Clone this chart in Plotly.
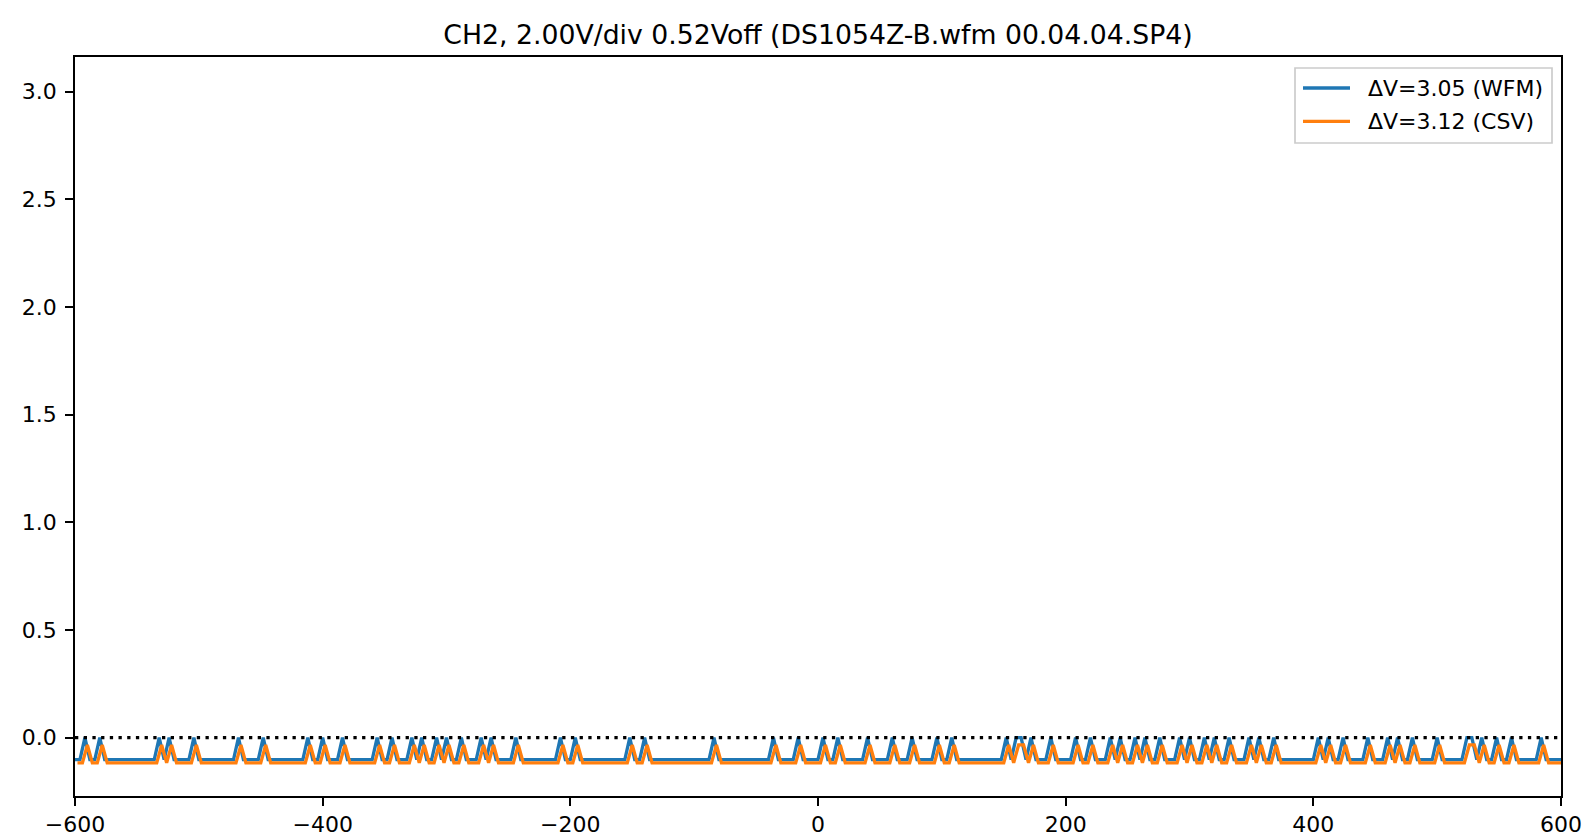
import plotly.graph_objects as go

# ---------------- data ----------------
sample_step = 4.0            # time between samples
wfm_start, wfm_stop = -600.0, 600.0
csv_start, csv_stop = -598.0, 602.0

# sample times where the WFM trace shows a one-sample spike
wfm_peak_times = [-592, -580, -532, -524, -504, -468, -448, -412, -400, -384,
                  -356, -344, -328, -320, -308, -300, -288, -272, -264, -244,
                  -208, -196, -152, -140, -84, -36, -16, 4, 16, 40, 60, 76,
                  96, 108, 152, 160, 164, 172, 188, 208, 220, 236, 244, 256,
                  264, 276, 292, 300, 312, 320, 332, 348, 356, 368, 404, 412,
                  424, 444, 460, 468, 480, 500, 524, 528, 536, 548, 560, 584]
# sample times where the CSV trace shows a spike
csv_peak_times = [-590, -578, -530, -522, -502, -466, -446, -410, -398, -382,
                  -354, -342, -326, -318, -306, -298, -286, -270, -262, -242,
                  -206, -194, -150, -138, -82, -34, -14, 6, 18, 42, 62, 78,
                  98, 110, 154, 162, 166, 174, 190, 210, 222, 238, 246, 258,
                  266, 278, 294, 302, 314, 322, 334, 350, 358, 370, 406, 414,
                  426, 446, 462, 470, 482, 502, 526, 530, 538, 550, 562, 586]

wfm_low, wfm_high = -0.102, 0.0
csv_low, csv_high = -0.117, -0.034

series_names = ["\u0394V=3.05 (WFM)", "\u0394V=3.12 (CSV)"]
series_colors = ["#1f77b4", "#ff7f0e"]

x_tick_vals = [-600, -400, -200, 0, 200, 400, 600]
y_tick_vals = [0.0, 0.5, 1.0, 1.5, 2.0, 2.5, 3.0]
y_tick_text = ["0.0", "0.5", "1.0", "1.5", "2.0", "2.5", "3.0"]
x_range = [-600, 600]
y_range = [-0.271, 3.161]

title_text = "CH2, 2.00V/div 0.52Voff (DS1054Z-B.wfm 00.04.04.SP4)"


def build(start, stop, peaks, low, high):
    n = int(round((stop - start) / sample_step)) + 1
    pk = set(int(round(p)) for p in peaks)
    xs, ys = [], []
    for k in range(n):
        t = start + k * sample_step
        xs.append(t)
        ys.append(high if int(round(t)) in pk else low)
    return xs, ys


wfm_x, wfm_y = build(wfm_start, wfm_stop, wfm_peak_times, wfm_low, wfm_high)
csv_x, csv_y = build(csv_start, csv_stop, csv_peak_times, csv_low, csv_high)

# ---------------- layout geometry (pixels) ----------------
W, H = 1592, 840
L, R, T, B = 67, 1553, 49, 788
FONT = "DejaVu Sans"
LW = 3.3
TICK_FS = 22
LEG_FS = 22
TITLE_FS = 26.7


def fx(p):
    return (p - L) / (R - L)


def fy(p):
    return 1 - (p - T) / (B - T)


fig = go.Figure()
fig.add_trace(go.Scatter(x=wfm_x, y=wfm_y, mode="lines", name=series_names[0],
                         line=dict(color=series_colors[0], width=LW),
                         showlegend=False))
fig.add_trace(go.Scatter(x=csv_x, y=csv_y, mode="lines", name=series_names[1],
                         line=dict(color=series_colors[1], width=LW),
                         showlegend=False))
fig.add_trace(go.Scatter(x=x_range, y=[0, 0], mode="lines", showlegend=False,
                         line=dict(color="black", width=LW, dash="3.3px,5.4px"),
                         hoverinfo="skip"))

axis_common = dict(showline=True, mirror=True, linecolor="black", linewidth=1.7,
                   ticks="outside", ticklen=8, tickwidth=1.7, tickcolor="black",
                   showgrid=False, zeroline=False,
                   tickfont=dict(family=FONT, size=TICK_FS, color="black"))

fig.update_layout(
    width=W, height=H, autosize=False,
    margin=dict(l=L, r=W - R, t=T, b=H - B, pad=0),
    paper_bgcolor="white", plot_bgcolor="white",
    font=dict(family=FONT, color="black"),
    showlegend=False,
    title=dict(text=title_text, x=0.5, xref="paper", xanchor="center",
               y=1 - 27 / H, yref="container", yanchor="middle",
               font=dict(family=FONT, size=TITLE_FS, color="black")),
    xaxis=dict(range=x_range, tickvals=x_tick_vals, **axis_common),
    yaxis=dict(range=y_range, tickvals=y_tick_vals, ticktext=y_tick_text,
               ticklabelstandoff=4, **axis_common),
)

# ---------------- legend (matplotlib style box) ----------------
box_l, box_r, box_t, box_b = 1287, 1544, 60, 135
fig.add_shape(type="rect", xref="paper", yref="paper",
              x0=fx(box_l), x1=fx(box_r), y0=fy(box_b), y1=fy(box_t),
              fillcolor="rgba(255,255,255,0.8)",
              line=dict(color="#cccccc", width=1.7), layer="above")
entry_y = [80, 113.3]
for name, col, ey in zip(series_names, series_colors, entry_y):
    fig.add_shape(type="line", xref="paper", yref="paper",
                  x0=fx(1295), x1=fx(1342), y0=fy(ey), y1=fy(ey),
                  line=dict(color=col, width=LW), layer="above")
    fig.add_annotation(xref="paper", yref="paper", x=fx(1358), y=fy(ey),
                       xanchor="left", yanchor="middle", showarrow=False,
                       text=name, font=dict(family=FONT, size=LEG_FS, color="black"))

fig.write_html("out.html")
